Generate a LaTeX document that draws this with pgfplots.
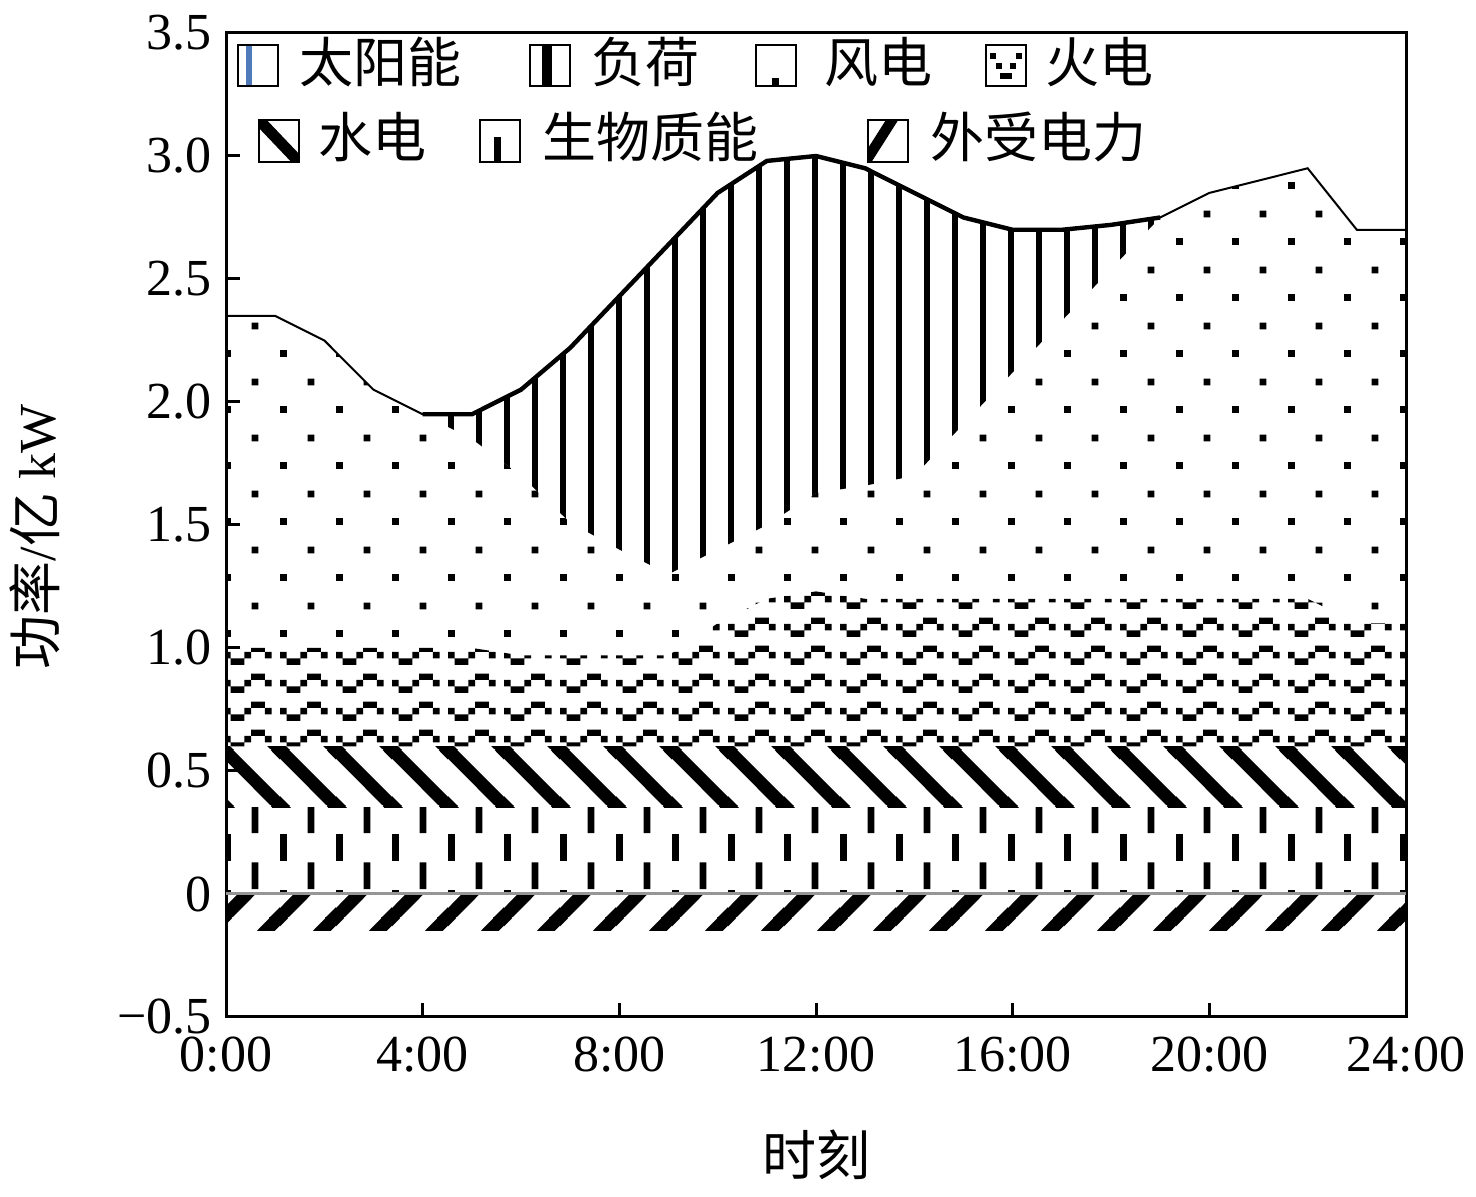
\documentclass[border=0pt]{standalone}
\usepackage{fontspec}
\setmainfont{Liberation Serif}
\newfontfamily\cjk{Noto Sans CJK SC}
\usepackage{pgfplots}
\pgfplotsset{compat=1.18}
\usepackage{pgfplotstable}
\usepgfplotslibrary{fillbetween}
\usetikzlibrary{patterns}

\definecolor{zerogray}{RGB}{150,150,150}
\definecolor{solarblue}{RGB}{79,122,186}

% wind: staggered square dots
\pgfdeclarepatternformonly{winddots}{\pgfqpoint{0pt}{0pt}}{\pgfqpoint{14pt}{14pt}}{\pgfqpoint{14pt}{14pt}}{%
  \pgfpathrectangle{\pgfqpoint{0pt}{0pt}}{\pgfqpoint{1.75pt}{1.75pt}}%
  \pgfpathrectangle{\pgfqpoint{7pt}{7pt}}{\pgfqpoint{1.75pt}{1.75pt}}%
  \pgfusepath{fill}}
% solar: vertical lines
\pgfdeclarepatternformonly{solarlines}{\pgfqpoint{0pt}{0pt}}{\pgfqpoint{7pt}{7pt}}{\pgfqpoint{7pt}{7pt}}{%
  \pgfpathrectangle{\pgfqpoint{0pt}{-0.5pt}}{\pgfqpoint{1.5pt}{8pt}}%
  \pgfusepath{fill}}
% thermal: blocky wave
\pgfdeclarepatternformonly{thermalwave}{\pgfqpoint{0pt}{0pt}}{\pgfqpoint{14pt}{7pt}}{\pgfqpoint{14pt}{7pt}}{%
  \pgfpathrectangle{\pgfqpoint{0pt}{1.7pt}}{\pgfqpoint{1.7pt}{1.7pt}}%
  \pgfpathrectangle{\pgfqpoint{1.7pt}{0pt}}{\pgfqpoint{3.5pt}{1.7pt}}%
  \pgfpathrectangle{\pgfqpoint{5.2pt}{1.7pt}}{\pgfqpoint{1.7pt}{1.7pt}}%
  \pgfpathrectangle{\pgfqpoint{6.9pt}{3.4pt}}{\pgfqpoint{3.5pt}{1.6pt}}%
  \pgfpathrectangle{\pgfqpoint{10.4pt}{1.7pt}}{\pgfqpoint{1.7pt}{1.7pt}}%
  \pgfusepath{fill}}
% hydro: thick "\" stripes
\pgfdeclarepatternformonly{hydrostripes}{\pgfqpoint{0pt}{0pt}}{\pgfqpoint{14pt}{14pt}}{\pgfqpoint{14pt}{14pt}}{%
  \pgfsetlinewidth{3.2pt}%
  \pgfpathmoveto{\pgfqpoint{-1pt}{15pt}}\pgfpathlineto{\pgfqpoint{15pt}{-1pt}}%
  \pgfpathmoveto{\pgfqpoint{-3pt}{3pt}}\pgfpathlineto{\pgfqpoint{3pt}{-3pt}}%
  \pgfpathmoveto{\pgfqpoint{11pt}{17pt}}\pgfpathlineto{\pgfqpoint{17pt}{11pt}}%
  \pgfusepath{stroke}}
% external: thick "/" stripes
\pgfdeclarepatternformonly{extstripes}{\pgfqpoint{0pt}{0pt}}{\pgfqpoint{14pt}{14pt}}{\pgfqpoint{14pt}{14pt}}{%
  \pgfsetlinewidth{3.2pt}%
  \pgfpathmoveto{\pgfqpoint{-1pt}{-1pt}}\pgfpathlineto{\pgfqpoint{15pt}{15pt}}%
  \pgfpathmoveto{\pgfqpoint{-3pt}{11pt}}\pgfpathlineto{\pgfqpoint{3pt}{17pt}}%
  \pgfpathmoveto{\pgfqpoint{11pt}{-3pt}}\pgfpathlineto{\pgfqpoint{17pt}{3pt}}%
  \pgfusepath{stroke}}
% biomass: staggered vertical dashes
\pgfdeclarepatternformonly{biodash}{\pgfqpoint{0pt}{0pt}}{\pgfqpoint{14pt}{14pt}}{\pgfqpoint{14pt}{14pt}}{%
  \pgfpathrectangle{\pgfqpoint{0pt}{0pt}}{\pgfqpoint{1.75pt}{6.75pt}}%
  \pgfpathrectangle{\pgfqpoint{7pt}{7pt}}{\pgfqpoint{1.75pt}{6.75pt}}%
  \pgfusepath{fill}}

\pgfplotstableread{
t  L     W     T
0  2.35  2.35  1.00
1  2.35  2.35  1.00
2  2.25  2.25  1.00
3  2.05  2.05  1.00
4  1.95  1.95  1.00
5  1.95  1.85  1.00
6  2.05  1.70  0.97
7  2.22  1.51  0.97
8  2.43  1.40  0.97
9  2.64  1.30  0.97
10 2.85  1.40  1.10
11 2.98  1.50  1.20
12 3.00  1.63  1.23
13 2.95  1.66  1.20
14 2.85  1.70  1.20
15 2.75  1.91  1.20
16 2.70  2.12  1.20
17 2.70  2.33  1.20
18 2.72  2.54  1.20
19 2.75  2.75  1.20
20 2.85  2.85  1.20
21 2.90  2.90  1.20
22 2.95  2.95  1.20
23 2.70  2.70  1.10
24 2.70  2.70  1.10
}\loaddata

\newcommand\lab{\fontsize{13pt}{15pt}\selectfont}
\newcommand\cjkf{\fontsize{13.5pt}{16pt}\selectfont\cjk}

\begin{document}
\begin{tikzpicture}
\begin{axis}[
  at={(0,0)}, anchor=south west,
  scale only axis, width=295pt, height=246pt,
  xmin=0, xmax=24, ymin=-0.5, ymax=3.5,
  xtick={0,4,8,12,16,20,24},
  xticklabels={0:00,4:00,8:00,12:00,16:00,20:00,24:00},
  ytick={-0.5,0,0.5,1,1.5,2,2.5,3,3.5},
  yticklabels={−0.5,0,0.5,1.0,1.5,2.0,2.5,3.0,3.5},
  tick pos=left, tick align=inside, major tick length=3.5pt,
  axis line style={line width=0.75pt, black},
  tick style={line width=0.75pt, black},
  ticklabel style={font=\lab},
  xticklabel style={yshift=-1.5pt},
]
\addplot[draw=none, forget plot, name path=L] table[x=t,y=L]{\loaddata};
\addplot[draw=none, forget plot, name path=W] table[x=t,y=W]{\loaddata};
\addplot[draw=none, forget plot, name path=T] table[x=t,y=T]{\loaddata};
\addplot[draw=none, forget plot, name path=H] coordinates {(0,0.6) (24,0.6)};
\addplot[draw=none, forget plot, name path=B] coordinates {(0,0.35) (24,0.35)};
\addplot[draw=none, forget plot, name path=Z] coordinates {(0,0) (24,0)};
\addplot[draw=none, forget plot, name path=E] coordinates {(0,-0.15) (24,-0.15)};

\addplot[pattern=solarlines, draw=none] fill between[of=W and L];
\addplot[pattern=winddots, draw=none] fill between[of=T and W];
\addplot[pattern=thermalwave, draw=none] fill between[of=H and T];
\addplot[pattern=hydrostripes, draw=none] fill between[of=B and H];
\addplot[pattern=biodash, draw=none] fill between[of=Z and B];
\addplot[pattern=extstripes, draw=none] fill between[of=E and Z];

\addplot[zerogray, line width=0.75pt] coordinates {(0,0) (24,0)};
\addplot[black, line width=0.5pt] table[x=t,y=L]{\loaddata};
\addplot[black, line width=1.1pt, restrict x to domain=4:19] table[x=t,y=L]{\loaddata};
\end{axis}
\pgfresetboundingbox
\path[use as bounding box] (-56.5pt,-45pt) rectangle (312.5pt,254.25pt);

% legend (row 1)
\begin{scope}[line width=0.6pt]
% solar
\fill[solarblue] (5pt,232.75pt) rectangle (6.5pt,243pt);
\draw (3pt,232.75pt) rectangle (13pt,243pt);
\node[anchor=west, inner sep=0pt] at (18pt,238.75pt) {\cjkf 太阳能};
% load
\fill (79pt,232.75pt) rectangle (81.5pt,243pt);
\draw (76pt,232.75pt) rectangle (86pt,243pt);
\node[anchor=west, inner sep=0pt] at (91pt,238.75pt) {\cjkf 负荷};
% wind
\fill (136.5pt,232.75pt) rectangle (138.25pt,234.75pt);
\draw (132.5pt,232.75pt) rectangle (142.5pt,243pt);
\node[anchor=west, inner sep=0pt] at (149.25pt,238.75pt) {\cjkf 风电};
% thermal
\fill (191pt,239.5pt) rectangle (192.5pt,241pt);
\fill (192.5pt,237pt) rectangle (194pt,238.5pt);
\fill (193.5pt,234.5pt) rectangle (196.5pt,236pt);
\fill (196pt,237pt) rectangle (197.5pt,238.5pt);
\fill (197.5pt,239.5pt) rectangle (199pt,241pt);
\draw (190pt,232.75pt) rectangle (200pt,243pt);
\node[anchor=west, inner sep=0pt] at (204.5pt,238.75pt) {\cjkf 火电};
% row 2
% hydro
\begin{scope}
\clip (8.25pt,213.75pt) rectangle (18.25pt,224.25pt);
\draw[line width=2.8pt] (8.25pt,224.25pt) -- (18.25pt,213.75pt);
\end{scope}
\draw (8.25pt,213.75pt) rectangle (18.25pt,224.25pt);
\node[anchor=west, inner sep=0pt] at (22.75pt,219.9pt) {\cjkf 水电};
% biomass
\fill (67pt,213.75pt) rectangle (68.75pt,220pt);
\draw (63.5pt,213.75pt) rectangle (73.5pt,224.25pt);
\node[anchor=west, inner sep=0pt] at (78.75pt,219.9pt) {\cjkf 生物质能};
% external
\begin{scope}
\clip (160.5pt,213.75pt) rectangle (170.5pt,224.25pt);
\draw[line width=2.6pt] (160pt,214pt) -- (167pt,225pt);
\end{scope}
\draw (160.5pt,213.75pt) rectangle (170.5pt,224.25pt);
\node[anchor=west, inner sep=0pt] at (175.75pt,219.9pt) {\cjkf 外受电力};
\end{scope}

% axis labels
\node[rotate=90, anchor=center] at (-47.75pt,120pt) {{\cjkf 功率}{\lab/}{\cjkf 亿}{\lab\ kW}};
\node[anchor=center] at (147.5pt,-34.5pt) {\cjkf 时刻};
\end{tikzpicture}
\end{document}
